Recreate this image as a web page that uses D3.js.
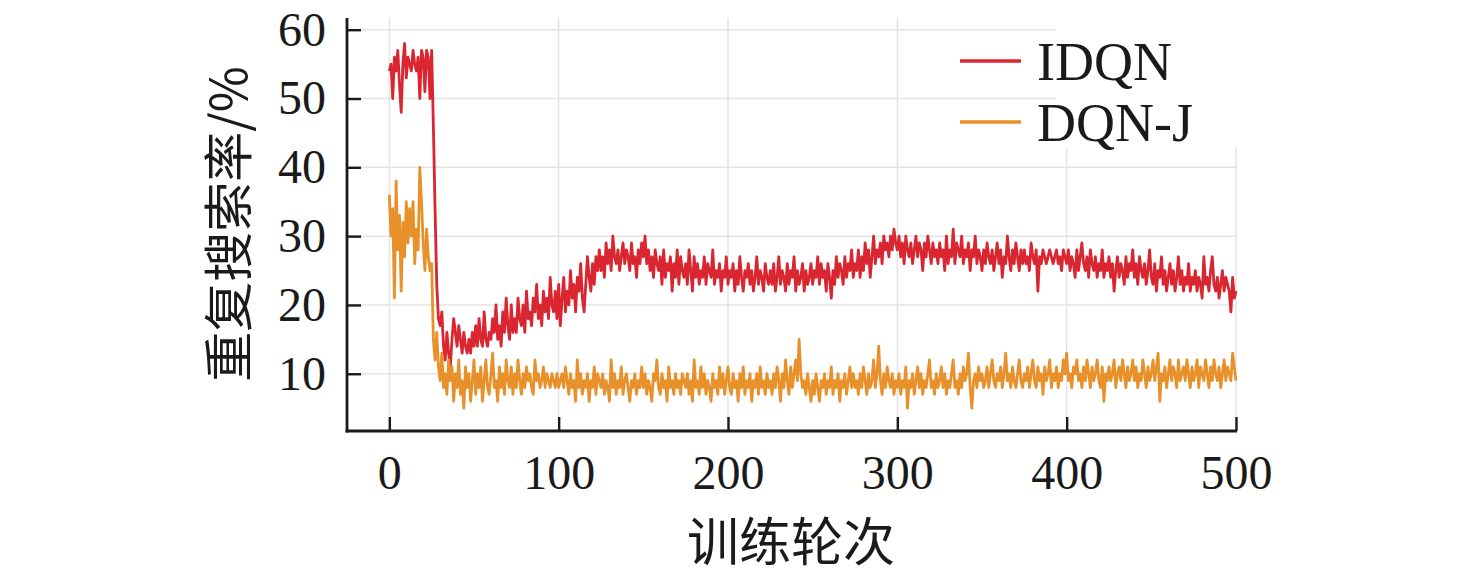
<!DOCTYPE html>
<html>
<head>
<meta charset="utf-8">
<script src="https://cdn.jsdelivr.net/npm/d3@7"></script>
<style>
  body { margin: 0; background: #ffffff; }
  svg { display: block; }
</style>
</head>
<body>
<div id="chart"></div>
<script>
// series names and tick values
var seriesNames = ["IDQN", "DQN-J"];
var xTicks = [0, 100, 200, 300, 400, 500];
var yTicks = [10, 20, 30, 40, 50, 60];

// repeated search rate (%) per training epoch 0..500
var idqn = [
  54,55,50,56,54,57,52,48,55,58,53,56,55,54,57,55,54,56,50,57,56,51,57,56,50,
  57,46,34,23,18,17,19,14,12,16,13,11,15,18,16,14,17,15,13,16,14,13,15,13,16,
  14,17,14,18,15,14,19,15,14,16,15,18,16,20,15,17,14,19,16,21,17,15,20,16,18,
  16,21,18,17,20,16,22,18,19,17,21,19,23,18,20,17,22,19,21,18,24,20,19,22,18,
  23,17,21,24,19,22,20,25,21,23,19,24,22,26,21,19,23,27,24,22,26,23,27,25,28,
  25,27,24,29,26,28,25,30,27,26,28,25,27,29,26,28,27,25,29,26,27,24,28,26,29,
  27,30,26,28,25,27,24,28,26,25,27,23,28,24,26,25,27,22,26,24,28,23,27,25,24,
  26,23,28,25,22,27,24,26,23,25,24,27,23,26,25,24,28,23,25,24,26,22,25,24,27,
  23,25,24,26,22,25,23,27,24,22,25,24,26,23,25,22,24,27,23,25,24,22,26,24,23,
  25,23,26,22,24,27,23,25,24,22,26,23,25,24,27,22,25,23,24,26,22,25,23,24,26,
  23,25,24,27,23,26,24,25,22,26,24,21,25,23,27,24,26,25,23,27,24,26,25,28,24,
  26,25,28,24,27,25,29,26,28,24,27,30,26,28,27,29,26,30,28,29,27,30,28,31,29,
  28,30,27,29,26,30,28,27,29,26,28,30,27,29,28,25,29,27,30,28,26,29,27,28,26,
  29,27,28,25,30,26,28,27,31,26,29,28,27,30,26,28,27,29,25,28,27,30,26,28,27,
  25,28,26,29,27,26,28,25,27,29,26,28,24,27,26,30,27,25,28,26,29,27,25,28,26,
  28,26,27,25,29,27,26,28,22,27,26,28,27,26,27,28,27,26,27,28,26,27,25,28,27,
  26,28,25,27,26,24,28,25,27,29,26,25,27,24,28,26,25,27,24,26,25,28,24,26,25,
  27,24,26,22,25,27,24,26,25,23,27,24,26,25,28,24,26,23,27,25,24,26,23,25,28,
  24,23,26,22,25,24,27,23,25,22,24,26,23,25,22,24,27,23,25,22,24,23,26,22,24,
  23,25,22,24,23,21,27,23,24,22,25,27,23,22,24,21,23,25,22,24,23,22,19,24,21,
  22
];

var dqnj = [
  36,30,34,21,38,28,33,22,32,27,35,29,34,30,35,26,31,28,40,35,29,25,31,27,25,
  26,15,12,16,11,9,13,8,10,7,12,9,11,6,10,8,12,7,9,5,11,8,10,6,9,
  12,7,10,8,11,6,9,12,8,7,10,13,8,9,6,11,8,10,7,12,9,8,11,7,10,
  8,12,9,7,10,8,11,9,10,8,7,12,9,10,8,9,11,8,10,9,8,10,9,8,10,
  8,9,10,8,11,9,7,10,8,9,6,12,8,10,7,9,8,10,6,9,8,11,7,10,9,
  8,10,7,9,8,6,12,8,10,7,9,8,11,7,9,10,8,6,9,8,10,7,9,8,11,
  8,10,7,9,8,6,10,9,12,8,7,10,8,9,6,11,8,9,7,10,8,9,7,10,9,
  8,10,7,9,6,12,8,9,7,11,8,10,7,9,8,6,10,8,9,7,11,8,10,7,9,
  11,8,7,10,8,9,6,10,8,11,7,9,8,10,6,9,8,10,7,11,8,9,7,10,8,
  9,7,10,8,11,9,6,10,8,12,9,7,11,8,10,12,9,15,10,8,9,7,10,8,6,
  9,7,10,8,6,9,8,10,7,9,8,11,7,9,8,10,6,9,8,10,7,9,11,8,10,
  8,9,7,10,8,11,9,7,10,8,9,12,8,10,14,9,7,10,8,11,9,8,10,7,9,
  8,10,7,9,8,11,5,9,8,10,7,9,11,8,10,7,9,8,10,12,8,9,7,10,8,
  9,11,8,10,7,9,8,10,12,8,9,7,10,8,11,9,10,13,8,5,9,10,8,11,9,
  10,8,9,11,8,10,12,9,8,10,9,11,8,10,13,9,10,8,11,9,8,10,12,9,8,
  10,9,11,8,10,12,9,8,11,9,10,7,11,9,10,12,8,10,9,11,8,10,9,12,10,
  13,9,10,8,11,10,12,9,10,8,11,9,12,10,8,11,9,10,12,9,8,11,6,10,9,
  11,9,10,12,8,10,11,9,12,10,8,11,9,10,12,9,11,8,10,9,12,10,8,11,9,
  10,12,9,11,13,6,10,9,11,8,10,12,9,11,10,8,12,9,10,11,9,12,10,8,11,
  9,10,12,8,11,10,9,12,10,8,11,9,12,10,9,11,8,10,12,9,11,10,9,13,11,
  9
];

var cfg = {
  w: 1476,
  h: 576,
  left: 347, right: 1236, top: 18, bottom: 431,
  colors: ["#da2630", "#e8912b"],
  gridColor: "#e4e4e4",
  numFont: "'Liberation Serif', 'Times New Roman', serif",
  cjkFont: "'Noto Sans CJK SC', 'Noto Sans', sans-serif"
};

var svg = d3.select("#chart").append("svg")
  .attr("width", cfg.w)
  .attr("height", cfg.h);

// scales
var x = d3.scaleLinear().domain([-25, 500]).range([cfg.left, cfg.right]);
var y = d3.scaleLinear().domain([1.68, 61.7]).range([cfg.bottom, cfg.top]);

/////////////////////// grid ///////////////////////
var grid = svg.append("g").attr("class", "grid");

grid.selectAll(".vgrid")
  .data(xTicks)
  .enter().append("line")
  .attr("x1", function(d) { return x(d); })
  .attr("x2", function(d) { return x(d); })
  .attr("y1", cfg.top)
  .attr("y2", cfg.bottom)
  .style("stroke", cfg.gridColor)
  .style("stroke-width", 1.5);

grid.selectAll(".hgrid")
  .data(yTicks)
  .enter().append("line")
  .attr("x1", cfg.left)
  .attr("x2", cfg.right)
  .attr("y1", function(d) { return y(d); })
  .attr("y2", function(d) { return y(d); })
  .style("stroke", cfg.gridColor)
  .style("stroke-width", 1.5);

/////////////////////// lines ///////////////////////
var line = d3.line()
  .x(function(d, i) { return x(i); })
  .y(function(d) { return y(d); });

var series = [idqn, dqnj];

svg.selectAll(".series")
  .data(series)
  .enter().append("path")
  .attr("class", "series")
  .attr("d", function(d) { return line(d); })
  .style("fill", "none")
  .style("stroke", function(d, i) { return cfg.colors[i]; })
  .style("stroke-width", 2.8)
  .style("stroke-linejoin", "round");

/////////////////////// axes ///////////////////////
var xAxis = d3.axisBottom(x).tickValues(xTicks).tickSize(-14).tickSizeOuter(0).tickPadding(24);
var yAxis = d3.axisLeft(y).tickValues(yTicks).tickSize(-14).tickSizeOuter(0).tickPadding(21);

var gx = svg.append("g")
  .attr("transform", "translate(0," + cfg.bottom + ")")
  .call(xAxis);

var gy = svg.append("g")
  .attr("transform", "translate(" + cfg.left + ",0)")
  .call(yAxis);

[gx, gy].forEach(function(g) {
  g.select(".domain").style("stroke", "#1a1a1a").style("stroke-width", 2.8);
  g.selectAll(".tick line").style("stroke", "#1a1a1a").style("stroke-width", 2.4);
  g.selectAll(".tick text")
    .style("font-family", cfg.numFont)
    .style("font-size", "48px")
    .style("fill", "#1a1a1a");
});

// x domain line runs over the full plot width, y domain from bottom to top
gx.select(".domain").attr("d", "M" + (cfg.left - 1.4) + ",0H" + (cfg.right + 1));
gy.select(".domain").attr("d", "M0," + cfg.top + "V" + (cfg.bottom + 1.4));

/////////////////////// axis titles ///////////////////////
svg.append("text")
  .attr("x", 791)
  .attr("y", 561)
  .attr("text-anchor", "middle")
  .style("font-family", cfg.cjkFont)
  .style("font-size", "52px")
  .style("fill", "#1a1a1a")
  .text("训练轮次");

svg.append("text")
  .attr("transform", "translate(247,224) rotate(-90)")
  .attr("text-anchor", "middle")
  .style("font-family", cfg.cjkFont)
  .style("font-size", "50px")
  .style("fill", "#1a1a1a")
  .text("重复搜索率/%");

/////////////////////// legend ///////////////////////
// white legend background hides the grid in the top right corner
svg.append("rect")
  .attr("x", 1056)
  .attr("y", 14)
  .attr("width", 190)
  .attr("height", 133)
  .style("fill", "#ffffff");

var legend = svg.selectAll(".legendItem")
  .data(seriesNames)
  .enter().append("g")
  .attr("class", "legendItem")
  .attr("transform", function(d, i) { return "translate(960," + (61 + i * 61) + ")"; });

legend.append("line")
  .attr("x1", 0)
  .attr("x2", 61)
  .style("stroke", function(d, i) { return cfg.colors[i]; })
  .style("stroke-width", 3.5);

legend.append("text")
  .attr("x", 77)
  .attr("y", 19)
  .style("font-family", cfg.numFont)
  .style("font-size", "54px")
  .style("fill", "#1a1a1a")
  .text(function(d) { return d; });
</script>
</body>
</html>
